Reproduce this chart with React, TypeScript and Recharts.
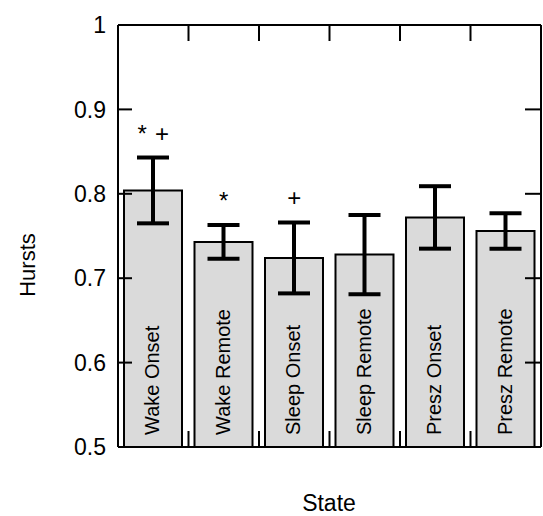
import { Bar, ComposedChart, ErrorBar, LabelList, Line, Scatter, XAxis, YAxis } from 'recharts';

const FONT = '"Liberation Sans", Arial, Helvetica, sans-serif';

const states = ['Wake Onset', 'Wake Remote', 'Sleep Onset', 'Sleep Remote', 'Presz Onset', 'Presz Remote'];
const hursts = [0.804, 0.743, 0.724, 0.728, 0.772, 0.756];
const errors = [0.039, 0.02, 0.042, 0.047, 0.037, 0.021];
const marks = ['*\u2004+', '*', '+', '', '', ''];
const yTicks = [0.5, 0.6, 0.7, 0.8, 0.9, 1];
const boundaries = [1, 2, 3, 4, 5];

const data = states.map((state, i) => ({
  state,
  pos: i + 0.5,
  hurst: hursts[i],
  err: errors[i],
  top: hursts[i] + errors[i],
  mark: marks[i],
}));

function MarkShape(props: any) {
  const { cx, cy, payload } = props;
  if (!payload?.mark) return <g />;
  return (
    <text x={cx} y={cy - 16} textAnchor="middle" fontSize={24} fontFamily={FONT} fill="#000">
      {payload.mark}
    </text>
  );
}

function BarName(props: any) {
  const { x, y, width, height, value } = props;
  const cx = x + width / 2 - 1;
  const by = y + height - 12;
  return (
    <text
      x={cx}
      y={by}
      transform={`rotate(-90 ${cx} ${by})`}
      textAnchor="start"
      dominantBaseline="central"
      fontSize={20}
      fontFamily={FONT}
      fill="#000"
    >
      {value}
    </text>
  );
}

const frame = { stroke: '#000', strokeWidth: 2 };
const blank = () => '';

export default function App() {
  return (
    <div style={{ position: 'absolute', left: 0, top: 0, width: 543, height: 516, background: '#fff' }}>
      <ComposedChart width={543} height={516} data={data} margin={{ top: 24, right: 1, bottom: 68, left: 0 }}>
        <XAxis dataKey="state" hide height={0} />
        <XAxis
          xAxisId="top"
          dataKey="pos"
          orientation="top"
          type="number"
          domain={[0, 6]}
          allowDataOverflow
          ticks={boundaries}
          height={1}
          tickFormatter={blank}
          tickSize={-16}
          axisLine={frame}
          tickLine={frame}
        />
        <XAxis
          xAxisId="bottom"
          dataKey="pos"
          orientation="bottom"
          type="number"
          domain={[0, 6]}
          allowDataOverflow
          ticks={boundaries}
          height={1}
          tickFormatter={blank}
          tickSize={-16}
          axisLine={frame}
          tickLine={frame}
        />
        <YAxis
          domain={[0.5, 1]}
          ticks={yTicks}
          width={118}
          tickSize={-14}
          tickMargin={26}
          axisLine={frame}
          tickLine={frame}
          tickFormatter={(v) => String(v)}
          tick={{ fill: '#000', fontSize: 23, fontFamily: FONT }}
        />
        <YAxis
          yAxisId="right"
          orientation="right"
          domain={[0.5, 1]}
          ticks={yTicks}
          width={1}
          tickFormatter={blank}
          tickSize={-16}
          axisLine={frame}
          tickLine={frame}
        />
        <Bar dataKey="hurst" barSize={58} fill="#dadada" stroke="#000" strokeWidth={2} isAnimationActive={false}>
          <ErrorBar dataKey="err" width={16} strokeWidth={4} stroke="#000" direction="y" />
          <LabelList dataKey="state" content={<BarName />} />
        </Bar>
        <Scatter dataKey="top" shape={<MarkShape />} isAnimationActive={false} />
        <Line
          xAxisId="top"
          yAxisId="right"
          dataKey="hurst"
          stroke="none"
          dot={false}
          activeDot={false}
          legendType="none"
          isAnimationActive={false}
        />
        <Line
          xAxisId="bottom"
          dataKey="hurst"
          stroke="none"
          dot={false}
          activeDot={false}
          legendType="none"
          isAnimationActive={false}
        />
      </ComposedChart>
      <div
        style={{
          position: 'absolute',
          left: 28,
          top: 265,
          transform: 'translate(-50%, -50%) rotate(-90deg)',
          fontFamily: FONT,
          fontSize: 22,
          whiteSpace: 'nowrap',
        }}
      >
        Hursts
      </div>
      <div
        style={{
          position: 'absolute',
          left: 329,
          top: 503,
          transform: 'translate(-50%, -50%)',
          fontFamily: FONT,
          fontSize: 23,
          whiteSpace: 'nowrap',
        }}
      >
        State
      </div>
    </div>
  );
}
